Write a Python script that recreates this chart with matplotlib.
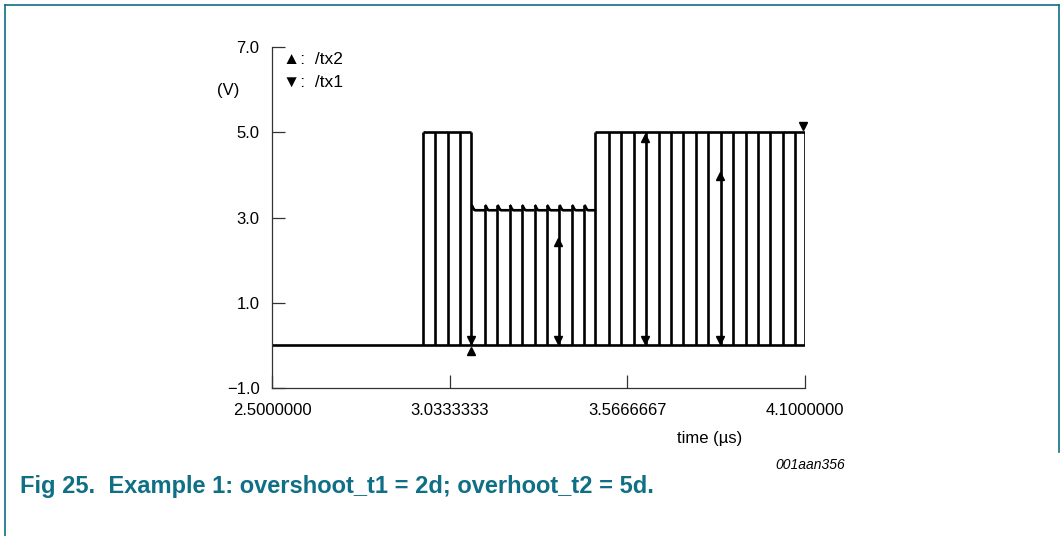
import matplotlib
matplotlib.use("Agg")
import matplotlib.pyplot as plt
from matplotlib.lines import Line2D

plt.rcParams['font.family'] = ['Liberation Sans', 'DejaVu Sans']

# pulse edges (time in us)
block1_times = [2.952, 2.989, 3.027, 3.064]
mid_times = [3.098, 3.139, 3.176, 3.213, 3.250, 3.288, 3.325, 3.362, 3.400, 3.437]
block3_times = [3.471, 3.511, 3.549, 3.586, 3.623, 3.661, 3.698, 3.735, 3.772,
                3.810, 3.847, 3.884, 3.922, 3.959, 3.996, 4.033, 4.071, 4.100]
high_level = 5.0
mid_level = 3.17
mid_peak = 3.29
# overshoot hook after each edge in the middle block
hook_dt = [0.0, 0.003, 0.006, 0.009, 0.012]
hook_v = [3.29, 3.27, 3.22, 3.18, 3.17]

# cursor markers
tx1_t = [3.098, 3.359, 3.620, 3.845, 4.095]
tx1_v = [0.13, 0.13, 0.13, 0.13, 5.15]
tx2_t = [3.098, 3.359, 3.620, 3.845]
tx2_v = [-0.14, 2.43, 4.86, 3.98]

yticks = [-1.0, 1.0, 3.0, 5.0, 7.0]
ytick_labels = ['\u22121.0', '1.0', '3.0', '5.0', '7.0']
xticks = [2.5, 3.0333333, 3.5666667, 4.1]
xtick_labels = ['2.5000000', '3.0333333', '3.5666667', '4.1000000']

W, H = 1061, 536
teal = '#0e6f85'
wave = dict(color='black', lw=1.9, solid_capstyle='butt')

fig = plt.figure(figsize=(W / 100, H / 100), dpi=100)
ax = fig.add_axes([272 / W, 1 - 388 / H, (805 - 272) / W, (388 - 47) / H])

# baseline
ax.plot([2.5, 4.1], [0, 0], **wave)
# vertical edges
ax.vlines(block1_times + block3_times, 0, high_level, colors='black', lw=1.9)
ax.vlines(mid_times[0], 0, high_level, colors='black', lw=1.9)
ax.vlines(mid_times[1:], 0, mid_peak, colors='black', lw=1.9)
# top of the high blocks
ax.plot([block1_times[0], mid_times[0]], [high_level, high_level], **wave)
ax.plot([block3_times[0], block3_times[-1]], [high_level, high_level], **wave)
# middle block with overshoot hooks
ends = mid_times[1:] + [block3_times[0]]
for t0, t1 in zip(mid_times, ends):
    xs = [t0 + d for d in hook_dt] + [t1]
    ys = hook_v + [mid_level]
    ax.plot(xs, ys, **wave)

ax.plot(tx1_t, tx1_v, 'v', color='black', ms=5.5, clip_on=False)
ax.plot(tx2_t, tx2_v, '^', color='black', ms=5.5, clip_on=False)

ax.set_xlim(2.5, 4.1)
ax.set_ylim(-1, 7)
ax.set_xticks(xticks)
ax.set_xticklabels(xtick_labels)
ax.set_yticks(yticks)
ax.set_yticklabels(ytick_labels)
ax.tick_params(direction='in', length=9.5, width=0.9, color='#333333',
               labelsize=12, labelcolor='black')
ax.tick_params(axis='x', pad=11)
ax.tick_params(axis='y', pad=9)
for s in ['top', 'right']:
    ax.spines[s].set_visible(False)
for s in ['left', 'bottom']:
    ax.spines[s].set_color('#333333')
    ax.spines[s].set_linewidth(0.9)

# legend and labels
fig.text(283 / W, 1 - 60 / H, '\u25b2:  /tx2', fontsize=12.5, va='center', color='black')
fig.text(283 / W, 1 - 82 / H, '\u25bc:  /tx1', fontsize=12.5, va='center', color='black')
fig.text(228 / W, 1 - 91 / H, '(V)', fontsize=12, ha='center', va='center', color='black')
fig.text(710 / W, 1 - 438 / H, 'time (\u00b5s)', fontsize=12, ha='center', va='center',
         color='black')
fig.text(810 / W, 1 - 465 / H, '001aan356', fontsize=10, ha='center', va='center',
         style='italic', color='black')
fig.text(20 / W, 1 - 486 / H, 'Fig 25.  Example 1: overshoot_t1 = 2d; overhoot_t2 = 5d.',
         fontsize=17, fontweight='bold', color=teal, va='center')

# figure frame
frame = dict(color=teal, lw=1.2, transform=fig.transFigure)
fig.add_artist(Line2D([4.5 / W, 1059 / W], [1 - 4.5 / H, 1 - 4.5 / H], **frame))
fig.add_artist(Line2D([4.5 / W, 4.5 / W], [1 - 4.5 / H, 0], **frame))
fig.add_artist(Line2D([1059 / W, 1059 / W], [1 - 4.5 / H, 1 - 452 / H], **frame))

fig.savefig('out.png', dpi=100)
